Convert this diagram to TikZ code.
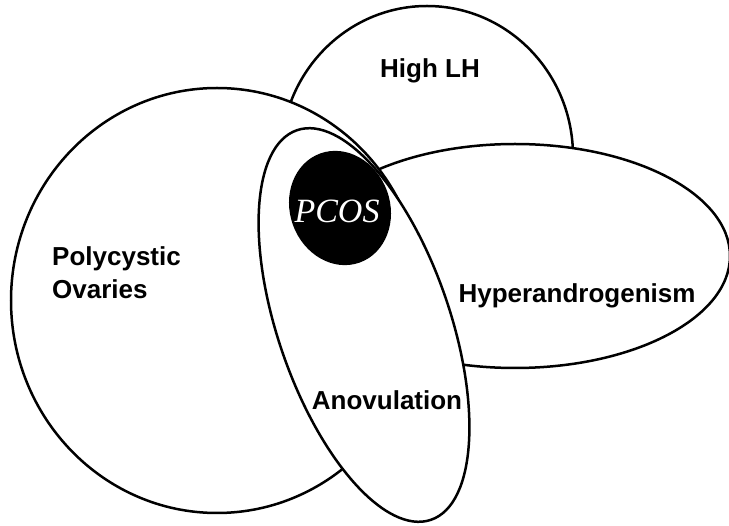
\documentclass[tikz,border=0pt]{standalone}
\usepackage{fontspec}
\setmainfont{Liberation Sans}
\newfontfamily\pcosfont{Liberation Serif}

\begin{document}
\begin{tikzpicture}[x=1pt, y=-1pt]
        % Define styles for the sets and labels
        \tikzset{
            set line/.style={line width=2.5pt, black, fill=white},
            set label/.style={font=\fontsize{26}{33}\selectfont\bfseries, align=left, inner sep=0pt}
        }

        \useasboundingbox (0,0) rectangle (729,526);

        % Draw the sets, back to front
        \draw[set line] (427,156) ellipse [x radius=146, y radius=150];
        \draw[set line] (515,256) ellipse [x radius=215, y radius=112];
        \draw[set line] (217,300.5) ellipse [x radius=206, y radius=212.5];
        \draw[set line, rotate around={19:(364,325)}] (364,325) ellipse [x radius=86, y radius=206];

        % Black core where all sets meet
        \fill[black, rotate around={20:(340,208)}] (340,208) ellipse [x radius=50, y radius=58];

        % Labels for the sets
        \node[set label, anchor=base] (highlh) at (430,78) {High LH};
        \node[set label, anchor=base] (hyper) at (577,303) {Hyperandrogenism};
        \node[set label, anchor=base west] (poly) at (52,299) {Polycystic\\Ovaries};
        \node[set label, anchor=base] (anov) at (387,410) {Anovulation};
        \node[anchor=base, inner sep=0pt, text=white, font=\pcosfont\itshape\fontsize{34}{34}\selectfont] (pcos) at (337,223) {PCOS};

    \end{tikzpicture}
\end{document}
